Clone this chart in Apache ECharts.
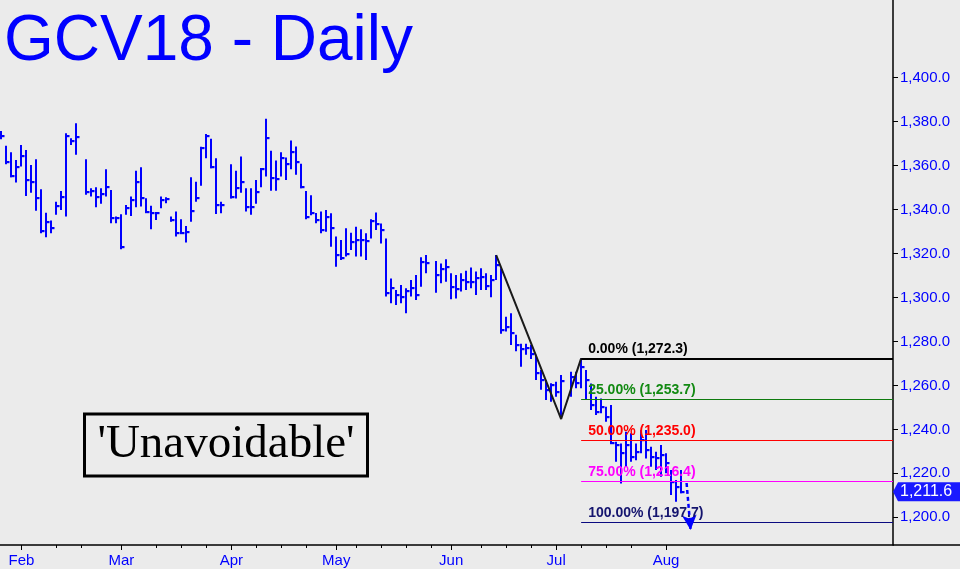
<!DOCTYPE html>
<html>
<head>
<meta charset="utf-8">
<script src="https://cdn.jsdelivr.net/npm/echarts@6/dist/echarts.min.js"></script>
<style>
html,body{margin:0;padding:0;background:#ebebeb;}
#chart{width:960px;height:569px;}
</style>
</head>
<body>
<div id="chart"></div>
<script>
// ---------- data ----------
const startDate = '2018-01-26';
const holidays = ['2018-02-19', '2018-03-30', '2018-05-28', '2018-07-04'];
const monthNames = ['Jan','Feb','Mar','Apr','May','Jun','Jul','Aug','Sep','Oct','Nov','Dec'];

const highs = [
1375.8,1369.0,1366.1,1362.6,1369.4,1367.1,1360.3,1362.9,1349.2,1338.6,1335.0,1343.6,1348.5,1374.7,1372.5,1379.3,
1362.9,1349.7,1350.2,1349.7,1358.3,1348.9,1336.8,1337.9,1342.1,1345.9,1357.7,1359.3,1345.2,1341.7,1338.3,1345.9,1345.6,1336.8,1339.1,1335.6,1332.5,1354.7,1352.7,1368.6,1374.4,1372.2,1363.4,1343.6,
1360.6,1357.7,1364.1,1349.7,1349.7,1353.5,1358.8,1381.3,1366.8,1362.3,1366.1,1363.7,1371.4,1368.7,1360.8,1348.4,1346.5,1338.5,1339.1,1339.8,1338.3,
1327.7,1326.2,1331.5,1329.5,1332.2,1331.0,1329.2,1335.6,1338.7,1333.7,1326.9,1308.7,1303.4,1305.7,1304.2,1308.0,1310.2,1318.3,1319.3,
1316.6,1315.5,1317.4,1311.0,1310.2,1311.0,1312.2,1313.7,1311.8,1313.3,1311.0,1310.2,1319.3,1313.3,1291.3,1292.8,1283.0,1279.0,1279.0,1278.5,1274.0,1267.0,1262.5,1261.0,
1261.7,1264.7,1266.2,1266.2,1272.3,1267.0,1260.9,1254.9,1254.1,1250.3,1251.1,1234.4,1233.6,1238.9,1238.2,1233.6,1239.7,1239.7,1232.1,1229.8,1232.9,
1229.1,1221.5,1217.0,1221.5
];
const lows = [
1372.0,1360.6,1354.7,1352.3,1359.6,1346.2,1347.7,1339.5,1329.2,1327.4,1329.2,1337.6,1339.8,1336.8,1369.4,1364.9,
1346.7,1345.9,1341.1,1342.6,1345.9,1333.8,1333.8,1321.9,1337.6,1337.1,1341.1,1341.4,1339.1,1331.0,1335.3,1340.6,1342.9,1334.5,1327.7,1329.5,1325.0,1334.5,1343.6,1350.8,1363.4,1358.8,1338.0,1338.3,
1345.0,1345.0,1347.7,1339.1,1337.6,1342.6,1350.2,1355.0,1348.6,1348.6,1355.0,1353.5,1358.3,1355.8,1349.7,1335.6,1337.4,1333.8,1329.2,1329.9,1323.1,
1314.0,1317.1,1318.6,1321.6,1318.6,1318.6,1317.1,1326.9,1330.7,1324.6,1300.4,1297.4,1296.6,1297.4,1292.8,1300.4,1298.9,1304.9,1311.0,
1302.2,1306.5,1307.2,1299.2,1299.6,1302.7,1303.4,1304.2,1301.1,1303.4,1303.4,1300.1,1308.0,1283.5,1284.5,1278.4,1275.5,1268.5,1274.0,1272.0,1262.5,1258.0,1253.4,1252.6,
1254.9,1244.7,1254.9,1258.7,1258.7,1253.4,1248.8,1246.5,1247.3,1243.5,1233.6,1225.3,1215.4,1223.0,1225.3,1226.0,1229.1,1226.8,1223.0,1221.5,1218.5,
1220.0,1210.1,1207.1,1210.9
];
const closes = [
1373.7,1361.5,1355.3,1359.3,1364.4,1353.5,1352.7,1345.2,1330.4,1334.5,1331.5,1341.7,1345.6,1373.5,1371.4,1372.9,
1348.2,1348.6,1345.6,1347.1,1350.2,1336.0,1336.0,1322.8,1340.6,1344.4,1352.7,1345.2,1339.1,1338.3,1338.3,1344.4,1344.7,1335.3,1329.2,1329.5,1329.8,1339.4,1345.2,1367.9,1373.5,1359.6,1342.1,1342.1,
1345.9,1349.7,1352.7,1341.4,1341.1,1348.2,1358.3,1372.5,1354.2,1353.8,1363.4,1360.8,1366.1,1361.8,1350.5,1336.5,1338.3,1335.3,1330.7,1336.8,1331.5,
1319.3,1317.8,1319.8,1325.4,1326.2,1326.2,1325.7,1335.0,1333.4,1330.7,1302.2,1304.2,1301.1,1300.4,1303.0,1304.2,1301.1,1316.3,1315.5,
1310.2,1312.8,1313.7,1304.9,1303.7,1308.0,1307.2,1307.2,1308.7,1309.5,1305.2,1308.0,1314.8,1285.0,1286.5,1284.0,1278.5,1276.5,1277.0,1274.5,1265.5,1262.5,1258.0,1260.2,
1257.0,1262.0,1264.0,1261.0,1268.5,1262.5,1251.0,1248.0,1250.3,1245.5,1233.6,1232.9,1229.1,1232.9,1227.6,1229.8,1235.2,1230.6,1227.6,1226.8,1228.3,
1224.5,1216.2,1213.9,1211.6
];

const yTickValues = [1200,1220,1240,1260,1280,1300,1320,1340,1360,1380,1400];
const swingPoints = [['2018-06-14', 1319.3], ['2018-07-03', 1244.7], ['2018-07-09', 1272.3]];
const fibLevels = [
  {pct: '0.00%',   value: 1272.3},
  {pct: '25.00%',  value: 1253.7},
  {pct: '50.00%',  value: 1235.0},
  {pct: '75.00%',  value: 1216.4},
  {pct: '100.00%', value: 1197.7}
];
const fibColors = [['#000000','#000000',2],['#0d7a0d','#138a13',1],['#ff0000','#ff0000',1],['#ff00ff','#ff00ff',1],['#0a0a80','#14146e',1]];
const lastPrice = 1211.6;
const projection = [['2018-08-07', 1215.6], ['2018-08-07', 1194.2]];
const titleText = 'GCV18 - Daily';
const noteText = "'Unavoidable'";

// ---------- build weekday slots ----------
function parseD(s){const p=s.split('-').map(Number);return new Date(Date.UTC(p[0],p[1]-1,p[2]));}
function fmtD(d){return d.toISOString().slice(0,10);}
const weekdays = [];
const tradingDays = [];
const slotOf = {};
{
  let d = parseD(startDate), slot = 0;
  while (tradingDays.length < highs.length || weekdays.length < 150) {
    const wd = d.getUTCDay();
    if (wd !== 0 && wd !== 6) {
      const s = fmtD(d);
      slotOf[s] = slot;
      weekdays.push({s: s, slot: slot, month: d.getUTCMonth(), wd: wd});
      if (!holidays.includes(s) && tradingDays.length < highs.length) tradingDays.push({s: s, slot: slot});
      slot++;
    }
    d.setUTCDate(d.getUTCDate() + 1);
  }
}
const lastSlot = tradingDays[tradingDays.length-1].slot;
const monthSlots = [], monthLabelOf = {};
for (let i = 1; i < weekdays.length; i++) {
  if (weekdays[i].slot > lastSlot) break;
  if (weekdays[i].month !== weekdays[i-1].month) {
    monthSlots.push(weekdays[i].slot);
    monthLabelOf[weekdays[i].slot] = monthNames[weekdays[i].month];
  }
}
const weekSlots = weekdays.filter(w => w.wd === 1 && w.slot <= lastSlot &&
  monthSlots.every(m => Math.abs(m - w.slot) > 3)).map(w => w.slot);

const barData = tradingDays.map((t, i) => [t.slot, highs[i], lows[i], closes[i]]);

// ---------- layout constants ----------
const X_MIN = -0.28, X_MAX = 178.4;
const Y_MIN = 1187.4, Y_MAX = 1435.35;
const BLUE = '#0000ff';

const chart = echarts.init(document.getElementById('chart'), null, {renderer: 'canvas'});

const fibMarkData = fibLevels.map((f, i) => [
  {coord: [slotOf[swingPoints[2][0]], f.value], name: f.pct + ' (' + f.value.toLocaleString('en-US',{minimumFractionDigits:1}) + ')',
   lineStyle: {color: fibColors[i][0], width: fibColors[i][2], type: 'solid'},
   label: {color: fibColors[i][1]}},
  {coord: [X_MAX, f.value]}
]);

const option = {
  backgroundColor: '#ebebeb',
  animation: false,
  grid: {left: 0, right: 67, top: 0, bottom: 24, containLabel: false},
  xAxis: [
    {
      type: 'value', min: X_MIN, max: X_MAX, position: 'bottom',
      axisLine: {show: true, onZero: false, lineStyle: {color: '#000', width: 1.5}},
      axisTick: {show: true, customValues: monthSlots, length: 5, lineStyle: {color: '#000', width: 1}},
      axisLabel: {show: true, customValues: monthSlots, formatter: v => monthLabelOf[Math.round(v)] || '',
        color: BLUE, fontSize: 15, fontFamily: 'Liberation Sans, Arial', margin: 8},
      splitLine: {show: false}
    },
    {
      type: 'value', min: X_MIN, max: X_MAX, position: 'bottom',
      axisLine: {show: false},
      axisTick: {show: true, customValues: weekSlots, length: 3, lineStyle: {color: '#000', width: 1}},
      axisLabel: {show: false},
      splitLine: {show: false}
    }
  ],
  yAxis: {
    type: 'value', min: Y_MIN, max: Y_MAX, position: 'right',
    axisLine: {show: true, onZero: false, lineStyle: {color: '#000', width: 1.5}},
    axisTick: {show: true, customValues: yTickValues, length: 5, inside: false, lineStyle: {color: '#000'}},
    axisLabel: {show: true, customValues: yTickValues, margin: 7,
      formatter: v => Number(v).toLocaleString('en-US', {minimumFractionDigits: 1, maximumFractionDigits: 1}),
      color: BLUE, fontSize: 15, fontFamily: 'Liberation Sans, Arial'},
    splitLine: {show: false}
  },
  series: [
    {
      type: 'custom', name: 'GCV18', data: barData, clip: false,
      encode: {x: 0, y: [1, 2, 3]},
      renderItem: function (params, api) {
        const x = api.value(0);
        const pH = api.coord([x, api.value(1)]);
        const pL = api.coord([x, api.value(2)]);
        const pC = api.coord([x, api.value(3)]);
        const cx = Math.round(pH[0]);
        return {type: 'group', children: [
          {type: 'rect', shape: {x: cx - 1, y: pH[1], width: 2, height: Math.max(1.5, pL[1] - pH[1])}, style: {fill: BLUE}},
          {type: 'rect', shape: {x: cx - 1, y: Math.round(pC[1]) - 1, width: 4.5, height: 2.2}, style: {fill: BLUE}}
        ]};
      }
    },
    {
      type: 'line', name: 'swing', data: swingPoints.map(p => [slotOf[p[0]], p[1]]),
      symbol: 'none', lineStyle: {color: '#1a1a1a', width: 2}, z: 3,
      markLine: {
        silent: true, symbol: ['none', 'none'], animation: false,
        label: {show: true, position: 'insideStartTop', formatter: p => p.name, distance: [7, 2],
          fontWeight: 'bold', fontSize: 14, fontFamily: 'Liberation Sans, Arial'},
        emphasis: {disabled: true},
        data: fibMarkData
      }
    },
    {
      type: 'line', name: 'projection', data: [], symbol: 'none',
      markLine: {
        silent: true, symbol: ['none', 'arrow'], symbolSize: [11, 15], animation: false,
        label: {show: false},
        lineStyle: {color: BLUE, width: 2.5, type: [4, 3]},
        data: [[{coord: [slotOf[projection[0][0]] + 0.1, projection[0][1]]},
                {coord: [slotOf[projection[1][0]] + 0.9, projection[1][1]]}]]
      }
    }
  ]
};
chart.setOption(option);

// annotations: title, note box, last price tag, axis-line extension (placed with the library's scales)
const tagPt = chart.convertToPixel({gridIndex: 0}, [X_MAX, lastPrice]);
const axisPt = chart.convertToPixel({gridIndex: 0}, [X_MAX, Y_MIN]);
chart.setOption({
  graphic: [
    {type: 'line', shape: {x1: axisPt[0], y1: axisPt[1], x2: 960, y2: axisPt[1]}, style: {stroke: '#000', lineWidth: 1.5}},
    {type: 'text', x: 4, y: 42, style: {text: titleText, fill: BLUE, font: '64px "Liberation Sans", Arial', verticalAlign: 'middle', align: 'left'}},
    {type: 'rect', shape: {x: 84.5, y: 414, width: 283, height: 62}, style: {fill: 'none', stroke: '#000', lineWidth: 3}},
    {type: 'text', x: 226, y: 445, style: {text: noteText, fill: '#000', font: '47px "Liberation Serif", "Times New Roman", serif', verticalAlign: 'middle', align: 'center'}},
    {type: 'polygon', shape: {points: [[tagPt[0], tagPt[1]], [tagPt[0] + 5, tagPt[1] - 9.5], [960, tagPt[1] - 9.5], [960, tagPt[1] + 9.5], [tagPt[0] + 5, tagPt[1] + 9.5]]}, style: {fill: '#1a1aff'}, z: 10},
    {type: 'text', x: tagPt[0] + 7, y: tagPt[1], style: {text: lastPrice.toLocaleString('en-US', {minimumFractionDigits: 1}), fill: '#ffffff', font: '16px "Liberation Sans", Arial', verticalAlign: 'middle', align: 'left'}, z: 11}
  ]
});
</script>
</body>
</html>
